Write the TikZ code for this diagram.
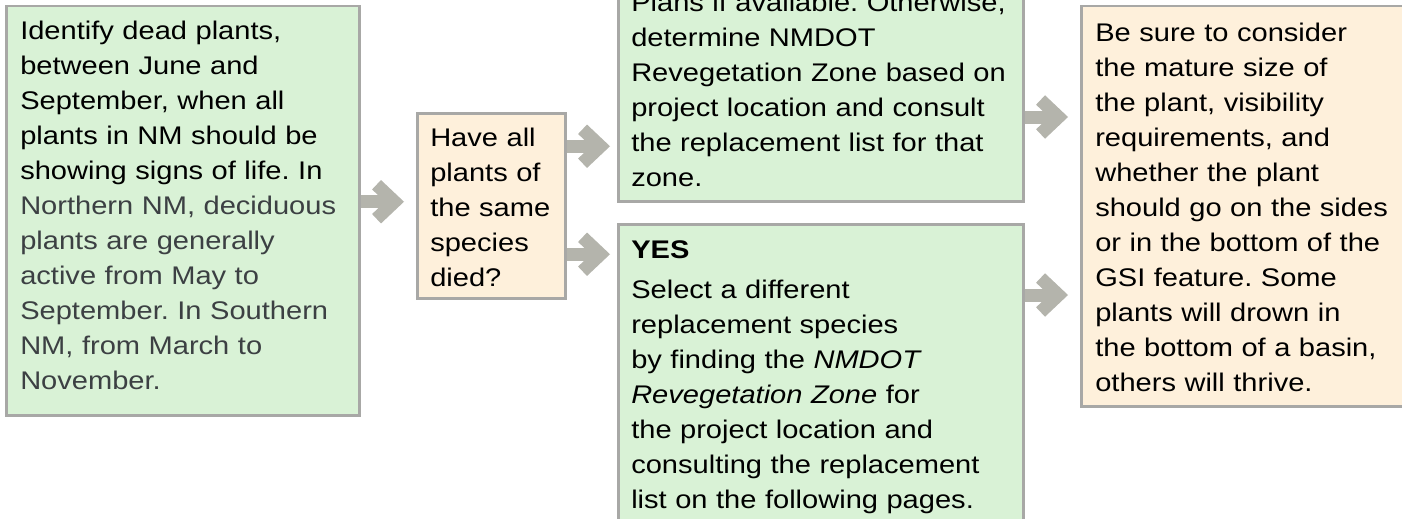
\documentclass[tikz,border=0pt]{standalone}
\usepackage{fontspec}
\setmainfont{Liberation Sans}[FakeStretch=1.14]
\usetikzlibrary{arrows.meta}
\definecolor{boxgreen}{HTML}{D9F2D6}
\definecolor{boxtan}{HTML}{FEF0DB}
\definecolor{edge}{HTML}{A8A8A6}
\definecolor{flowgray}{HTML}{B4B4AC}
\definecolor{note}{HTML}{3C4043}
\begin{document}
\begin{tikzpicture}[x=1pt, y=-1pt,
		box/.style={draw=edge, line width=2.5pt, anchor=north west, align=left,
			inner xsep=14pt, inner ysep=0pt, font=\fontsize{25.5}{35}\selectfont,
			execute at begin node={\frenchspacing\hyphenpenalty=10000}},
		greenbox/.style={box, fill=boxgreen},
		tanbox/.style={box, fill=boxtan},
		flow/.style={draw=flowgray, line width=13pt,
			-{Straight Barb[sharp, length=18pt, width=34pt]}, shorten >=12pt}]
		\useasboundingbox (0,0) rectangle (1402,519);
		\clip (0,0) rectangle (1402,519);
		\node[greenbox, text width=325pt, text height=33pt, text depth=376pt] (dead) at (5,5)
			{Identify dead plants,\\ between June and\\ September, when all\\ plants in NM should be\\ showing signs of life. In\\
			\textcolor{note}{Northern NM, deciduous\\ plants are generally\\ active from May to\\ September. In Southern\\ NM, from March to\\ November.}};
		\node[tanbox, inner xsep=13pt, text width=122pt, text height=33pt, text depth=152pt] (same) at (416,112)
			{Have all\\ plants of\\ the same\\ species\\ died?};
		\node[greenbox, inner xsep=13pt, text width=379pt, text height=33pt, text depth=190pt] (no) at (617,-23)
			{Plans if available. Otherwise,\\ determine NMDOT\\ Revegetation Zone based on\\ project location and consult\\ the replacement list for that\\ zone.};
		\node[greenbox, inner xsep=13pt, text width=379pt, text height=34pt, text depth=290pt] (yes) at (617,223)
			{\textbf{YES}\\[5pt] Select a different\\ replacement species\\ by finding the \textit{NMDOT}\\ \textit{Revegetation Zone} for\\ the project location and\\ consulting the replacement\\ list on the following pages.};
		\node[tanbox, text width=360pt, text height=35pt, text depth=365pt] (size) at (1080,5)
			{Be sure to consider\\ the mature size of\\ the plant, visibility\\ requirements, and\\ whether the plant\\ should go on the sides\\ or in the bottom of the\\ GSI feature. Some\\ plants will drown in\\ the bottom of a basin,\\ others will thrive.};
		\draw[flow] ([yshift=9pt]dead.east) -- ([yshift=9pt]dead.east -| same.west);
		\draw[flow, shorten >=7pt] ([yshift=59.5pt]same.east) -- ([yshift=59.5pt]same.east -| no.west);
		\draw[flow, shorten >=7pt] ([yshift=-48.5pt]same.east) -- ([yshift=-48.5pt]same.east -| yes.west);
		\draw[flow] (no.east |- 0,117) -- (size.west |- 0,117);
		\draw[flow] (yes.east |- 0,295) -- (size.west |- 0,295);
	\end{tikzpicture}
\end{document}
